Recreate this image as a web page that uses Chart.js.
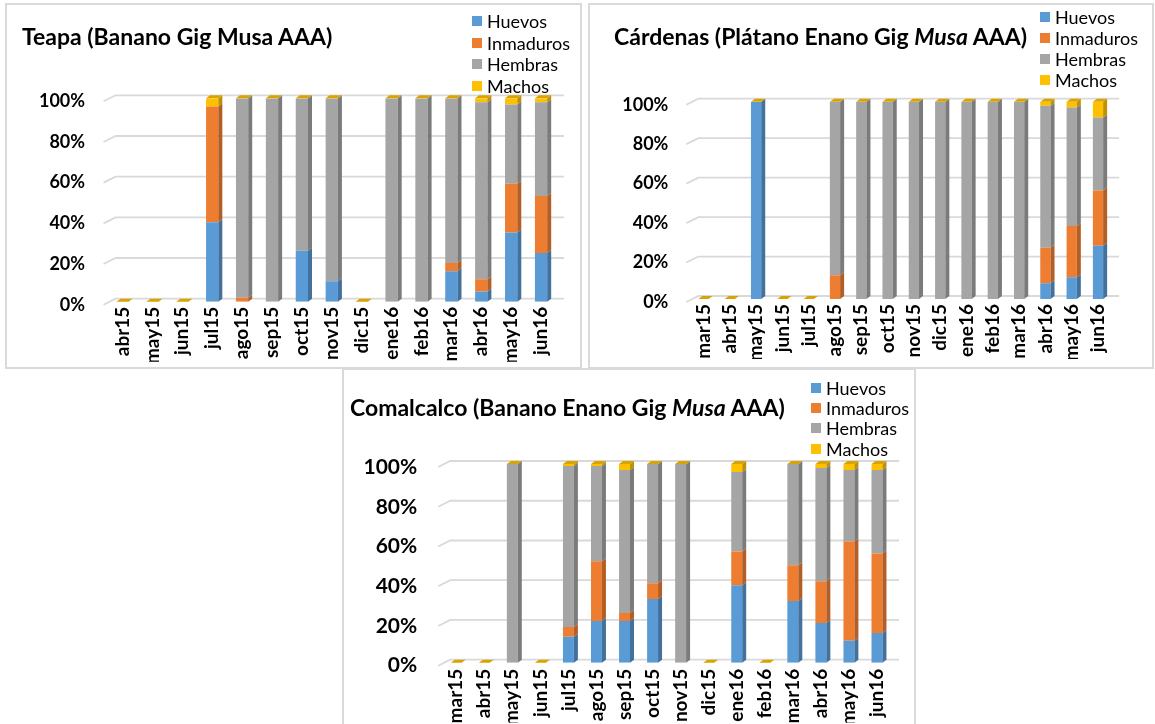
<!DOCTYPE html>
<html>
<head>
<meta charset="utf-8">
<script src="https://cdn.jsdelivr.net/npm/chart.js@4.4.1/dist/chart.umd.min.js"></script>
<style>
  html, body { margin: 0; padding: 0; background: #fff; }
  body { width: 1155px; height: 724px; overflow: hidden; position: relative; font-family: Lato, "Open Sans", sans-serif; color: #000; }
  .frame { position: absolute; border: 2px solid #D9D9D9; box-sizing: border-box; pointer-events: none; }
  .plot { position: absolute; }
  .title { position: absolute; font-weight: bold; font-size: 23px; line-height: 1; white-space: nowrap; transform: translateY(-50%); }
  .lg { position: absolute; font-size: 18px; line-height: 1; white-space: nowrap; transform: translateY(-50%); display: flex; align-items: center; }
  .lg i { display: inline-block; width: 10px; height: 10px; margin-right: 5px; }
</style>
</head>
<body>

<div class="frame" style="left:5px;top:3px;width:577px;height:366px;"></div>
<div class="frame" style="left:588px;top:3px;width:566px;height:366px;"></div>
<div class="frame" style="left:342px;top:368px;width:574px;height:362px;"></div>

<div class="plot" style="left:5px;top:3px;"><canvas id="teapa" width="577" height="365"></canvas></div>
<div class="plot" style="left:588px;top:3px;"><canvas id="cardenas" width="566" height="365"></canvas></div>
<div class="plot" style="left:342px;top:368px;"><canvas id="comalcalco" width="574" height="360"></canvas></div>

<div class="title" style="left:22px;top:36px;">Teapa (Banano Gig Musa AAA)</div>
<div class="title" style="left:614px;top:36px;">Cárdenas (Plátano Enano Gig <i>Musa</i> AAA)</div>
<div class="title" style="left:350px;top:407px;">Comalcalco (Banano Enano Gig <i>Musa</i> AAA)</div>

<div id="lg-teapa"></div>
<div id="lg-cardenas"></div>
<div id="lg-comalcalco"></div>

<script>
// Series shown in every panel (bottom to top of each stack)
const seriesNames = ['Huevos', 'Inmaduros', 'Hembras', 'Machos'];
const seriesColors = ['#5B9BD5', '#ED7D31', '#A5A5A5', '#FFC000'];
const sideColors = ['#41719C', '#B35E24', '#7B7B7B', '#BF9000'];
const capColor = '#D9A300';

// Percentage axis
const yTickValues = [0, 20, 40, 60, 80, 100];

// Teapa (Banano Gig Musa AAA), % per month
const teapaMonths = ['abr15', 'may15', 'jun15', 'jul15', 'ago15', 'sep15', 'oct15', 'nov15', 'dic15', 'ene16', 'feb16', 'mar16', 'abr16', 'may16', 'jun16'];
const teapaHuevos    = [0, 0, 0, 39, 0,   0,  25, 10, 0,   0,   0, 15,  5, 34, 24];
const teapaInmaduros = [0, 0, 0, 57, 2,   0,   0,  0, 0,   0,   0,  4,  6, 24, 28];
const teapaHembras   = [0, 0, 0,  0, 98, 100, 75, 90, 0, 100, 100, 81, 87, 39, 46];
const teapaMachos    = [0, 0, 0,  4, 0,   0,   0,  0, 0,   0,   0,  0,  2,  3,  2];

// Cárdenas (Plátano Enano Gig Musa AAA), % per month
const cardenasMonths = ['mar15', 'abr15', 'may15', 'jun15', 'jul15', 'ago15', 'sep15', 'oct15', 'nov15', 'dic15', 'ene16', 'feb16', 'mar16', 'abr16', 'may16', 'jun16'];
const cardenasHuevos    = [0, 0, 100, 0, 0,  0,   0,   0,   0,   0,   0,   0,   0,  8, 11, 27];
const cardenasInmaduros = [0, 0,   0, 0, 0, 12,   0,   0,   0,   0,   0,   0,   0, 18, 26, 28];
const cardenasHembras   = [0, 0,   0, 0, 0, 88, 100, 100, 100, 100, 100, 100, 100, 72, 60, 37];
const cardenasMachos    = [0, 0,   0, 0, 0,  0,   0,   0,   0,   0,   0,   0,   0,  2,  3,  8];

// Comalcalco (Banano Enano Gig Musa AAA), % per month
const comalcalcoMonths = ['mar15', 'abr15', 'may15', 'jun15', 'jul15', 'ago15', 'sep15', 'oct15', 'nov15', 'dic15', 'ene16', 'feb16', 'mar16', 'abr16', 'may16', 'jun16'];
const comalcalcoHuevos    = [0, 0,   0, 0, 13, 21, 21, 32,   0, 0, 39, 0, 31, 20, 11, 15];
const comalcalcoInmaduros = [0, 0,   0, 0,  5, 30,  4,  8,   0, 0, 17, 0, 18, 21, 50, 40];
const comalcalcoHembras   = [0, 0, 100, 0, 81, 48, 72, 60, 100, 0, 40, 0, 51, 57, 36, 42];
const comalcalcoMachos    = [0, 0,   0, 0,  1,  1,  3,  0,   0, 0,  4, 0,  0,  2,  3,  3];

// Depth of the extruded columns and of the back wall
const BAR_DX = 4, BAR_DY = 3;
const WALL_DX = 8, WALL_DY = 3;

// Back-wall gridlines with the short slanted run on the side wall
const wallGrid = {
  id: 'wallGrid',
  beforeDatasetsDraw(chart) {
    const { ctx, chartArea } = chart;
    const ys = chart.scales.y;
    ctx.save();
    ctx.strokeStyle = '#D9D9D9';
    ctx.lineWidth = 1.8;
    ys.ticks.forEach(t => {
      const py = ys.getPixelForValue(t.value);
      ctx.beginPath();
      ctx.moveTo(chartArea.left - 4, py + WALL_DY);
      ctx.lineTo(chartArea.left + WALL_DX, py - WALL_DY);
      ctx.lineTo(chartArea.right + WALL_DX, py - WALL_DY);
      ctx.stroke();
    });
    ctx.restore();
  }
};

// Side and top faces of each stacked column
const columns3d = {
  id: 'columns3d',
  afterDatasetsDraw(chart) {
    const ctx = chart.ctx;
    const metas = chart.getSortedVisibleDatasetMetas();
    const n = chart.data.labels.length;
    ctx.save();
    for (let i = 0; i < n; i++) {
      let top = null;
      metas.forEach(meta => {
        const el = meta.data[i];
        if (!el) return;
        const p = el.getProps(['x', 'y', 'base', 'width'], true);
        const r = p.x + p.width / 2;
        if (Math.abs(p.base - p.y) > 0.3) {
          ctx.fillStyle = sideColors[meta.index];
          ctx.beginPath();
          ctx.moveTo(r, p.y);
          ctx.lineTo(r + BAR_DX, p.y - BAR_DY);
          ctx.lineTo(r + BAR_DX, p.base - BAR_DY);
          ctx.lineTo(r, p.base);
          ctx.closePath();
          ctx.fill();
        }
        const t = Math.min(p.y, p.base);
        if (top === null || t <= top.y) top = { x: p.x, y: t, w: p.width };
      });
      if (top) {
        const l = top.x - top.w / 2, r = top.x + top.w / 2;
        ctx.fillStyle = capColor;
        ctx.beginPath();
        ctx.moveTo(l, top.y);
        ctx.lineTo(l + BAR_DX, top.y - BAR_DY);
        ctx.lineTo(r + BAR_DX, top.y - BAR_DY);
        ctx.lineTo(r, top.y);
        ctx.closePath();
        ctx.fill();
      }
    }
    ctx.restore();
  }
};

function buildLegend(id, squareX, centers) {
  const box = document.getElementById(id);
  seriesNames.forEach((name, k) => {
    const d = document.createElement('div');
    d.className = 'lg';
    d.style.left = squareX + 'px';
    d.style.top = centers[k] + 'px';
    d.innerHTML = '<i style="background:' + seriesColors[k] + '"></i>' + name;
    box.appendChild(d);
  });
}

function makeChart(id, months, values, g) {
  const datasets = seriesNames.map((name, k) => ({
    label: name,
    data: values[k],
    backgroundColor: seriesColors[k],
    borderWidth: 0,
    barPercentage: g.bar,
    categoryPercentage: 1
  }));
  return new Chart(document.getElementById(id), {
    type: 'bar',
    data: { labels: months, datasets },
    plugins: [wallGrid, columns3d],
    options: {
      responsive: false,
      animation: false,
      events: [],
      layout: { padding: { left: g.padL, right: g.padR, top: g.padT, bottom: g.padB } },
      plugins: { legend: { display: false }, title: { display: false }, tooltip: { enabled: false } },
      scales: {
        x: {
          stacked: true,
          grid: { display: false, drawTicks: false, tickLength: 0 },
          border: { display: false },
          afterFit(s) { s.height = g.xH; },
          ticks: {
            autoSkip: false, minRotation: 90, maxRotation: 90, padding: g.xPad,
            color: '#000', font: { family: 'Lato', weight: 'bold', size: g.xFont }
          }
        },
        y: {
          stacked: true, min: 0, max: 100,
          afterFit(s) { s.width = g.yW; },
          afterBuildTicks(s) { s.ticks = yTickValues.map(v => ({ value: v })); },
          grid: { display: false, drawTicks: false, tickLength: 0 },
          border: { display: false },
          ticks: {
            padding: g.yPad, labelOffset: 3,
            color: '#000', font: { family: 'Lato', weight: 'bold', size: g.yFont },
            callback: v => v + '%'
          }
        }
      }
    }
  });
}

function drawAll() {
  makeChart('teapa', teapaMonths, [teapaHuevos, teapaInmaduros, teapaHembras, teapaMachos],
    { padL: 22.55, padR: 26, padT: 95.3, padB: 6.3, yW: 80, xH: 60, bar: 0.41, xPad: 5, yPad: 22.5, xFont: 19, yFont: 18 });
  makeChart('cardenas', cardenasMonths, [cardenasHuevos, cardenasInmaduros, cardenasHembras, cardenasMachos],
    { padL: 22.35, padR: 42.85, padT: 98.7, padB: 9, yW: 80, xH: 60, bar: 0.39, xPad: 5, yPad: 22, xFont: 19, yFont: 18 });
  makeChart('comalcalco', comalcalcoMonths, [comalcalcoHuevos, comalcalcoInmaduros, comalcalcoHembras, comalcalcoMachos],
    { padL: 20.2, padR: 25, padT: 96, padB: 5.3, yW: 80, xH: 60, bar: 0.39, xPad: 6, yPad: 25, xFont: 19, yFont: 21 });

  buildLegend('lg-teapa', 472, [21, 42.5, 64, 85.5]);
  buildLegend('lg-cardenas', 1040, [17, 38, 59, 80]);
  buildLegend('lg-comalcalco', 811, [388, 408, 428, 449]);
}

if (document.fonts && document.fonts.load) {
  Promise.all([
    document.fonts.load('bold 18px Lato'),
    document.fonts.load('18px Lato')
  ]).then(drawAll, drawAll);
} else {
  drawAll();
}
</script>
</body>
</html>
